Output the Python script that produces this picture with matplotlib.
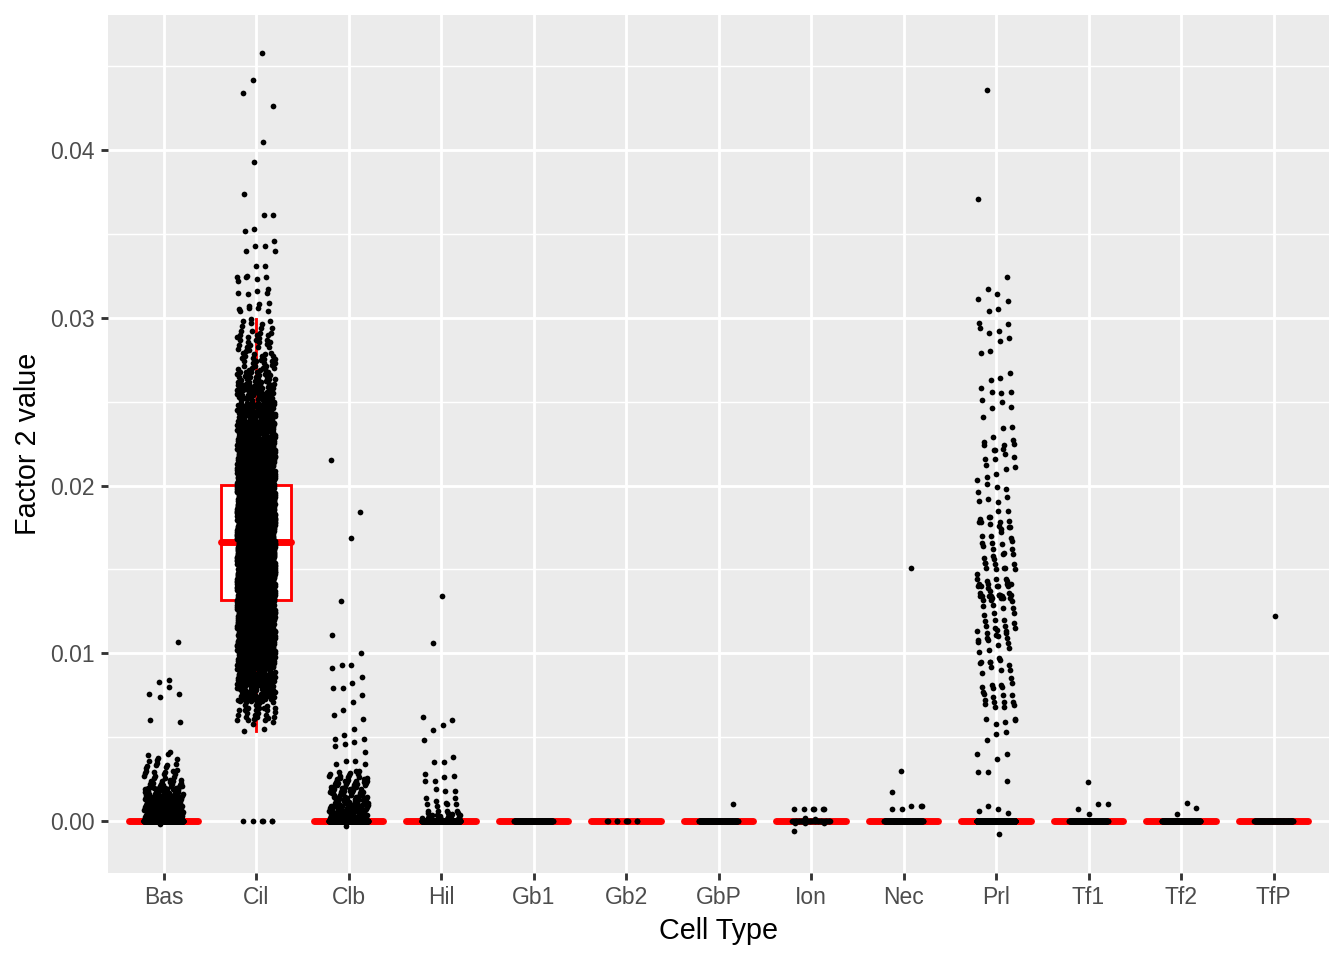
import numpy as np
import matplotlib
matplotlib.use("Agg")
import matplotlib.pyplot as plt
from matplotlib.ticker import FixedLocator

plt.rcParams['font.family'] = ['Liberation Sans', 'DejaVu Sans']

categories = ["Bas", "Cil", "Clb", "Hil", "Gb1", "Gb2", "GbP", "Ion", "Nec", "Prl", "Tf1", "Tf2", "TfP"]

# number of cells with value exactly 0 per category
zero_counts = [900, 6, 700, 400, 200, 9, 200, 50, 200, 750, 200, 200, 150]

# dense regions read as histogram bins (edges, counts)
bas_bin_edges = [0.0, 0.0005, 0.001, 0.0015, 0.002, 0.0025, 0.003, 0.0035, 0.004]
bas_bin_counts = [70, 60, 45, 32, 20, 12, 8, 6]
cil_bin_edges = [0.005, 0.006, 0.007, 0.008, 0.009, 0.010, 0.011, 0.012, 0.013, 0.014, 0.015, 0.016,
                 0.017, 0.018, 0.019, 0.020, 0.021, 0.022, 0.023, 0.024, 0.025, 0.026, 0.027, 0.028,
                 0.029, 0.030]
cil_bin_counts = [4, 25, 45, 65, 90, 105, 125, 145, 170, 185, 190, 195, 200, 190, 172, 135, 110, 90,
                  72, 58, 45, 34, 26, 20, 12]
clb_bin_edges = [0.0, 0.0005, 0.001, 0.0015, 0.002, 0.0025, 0.003]
clb_bin_counts = [45, 38, 30, 25, 20, 12]
hil_bin_edges = [0.0, 0.0004]
hil_bin_counts = [25]

# individually readable points
bas_points = [0.0107, 0.0084, 0.0083, 0.0076, 0.0076, 0.0080, 0.0074, 0.0060, 0.0059, 0.0041, -0.0002]
cil_points = [0.0458, 0.0442, 0.0434, 0.0426, 0.0405, 0.0393, 0.0374, 0.0361, 0.0361, 0.0353, 0.0352,
              0.0346, 0.0343, 0.0343, 0.0340, 0.0340, 0.0331, 0.0331, 0.0324, 0.0324, 0.0324, 0.0323,
              0.0325, 0.0322, 0.0315, 0.0316, 0.0314, 0.0315, 0.0317, 0.0306, 0.0307, 0.0305, 0.0304,
              0.0308, 0.0306, 0.0304, 0.0309]
clb_points = [0.0215, 0.0184, 0.0169, 0.0131, 0.0111, 0.0100, 0.0093, 0.0093, 0.0091, 0.0086, 0.0082,
              0.0079, 0.0079, 0.0075, 0.0071, 0.0066, 0.0063, 0.0061, 0.0055, 0.0051, 0.0049, 0.0049,
              0.0047, 0.0046, 0.0045, 0.0041, 0.0036, 0.0036, 0.0034, 0.0034, 0.0030, -0.0003]
hil_points = [0.0134, 0.0106, 0.0062, 0.0060, 0.0057, 0.0054, 0.0048, 0.0038, 0.0035, 0.0035, 0.0028,
              0.0027, 0.0026, 0.0024, 0.0024, 0.0018, 0.0018, 0.0019, 0.0014, 0.0014, 0.0011, 0.0012,
              0.0010, 0.0010, 0.0010, 0.0009, 0.0006, 0.0006, 0.0006, 0.0006, 0.0005, 0.0005, 0.0005]
gb1_points = []
gb2_points = []
gbp_points = [0.0010]
ion_points = [-0.0006, 0.0007, 0.0007, 0.0007, 0.0007, 0.0007, 0.0007, -0.0001, -0.0001, -0.0001,
              0.0001, 0.0002]
nec_points = [0.0151, 0.0030, 0.0017, 0.0009, 0.0009, 0.0007, 0.0007, 0.0009]
prl_points = [0.0436, 0.0371, 0.0324, 0.0314, 0.0317, 0.0311, 0.0310, 0.0305, 0.0304,
              0.0297, 0.0296, 0.0292, 0.0291, 0.0294, 0.0288, 0.0286, 0.0280, 0.0279, 0.0267, 0.0264,
              0.0263, 0.0258, 0.0256, 0.0255, 0.0256, 0.0251, 0.0247, 0.0250, 0.0246, 0.0241, 0.0235,
              0.0234, 0.0229, 0.0224, 0.0227, 0.0222, 0.0221, 0.0226, 0.0225, 0.0224, 0.0221, 0.0216,
              0.0217, 0.0219, 0.0216, 0.0212, 0.0211, 0.0210, 0.0207, 0.0205, 0.0203, 0.0198, 0.0199,
              0.0201, 0.0196, 0.0193, 0.0190, 0.0192, 0.0191, 0.0185, 0.0185, 0.0181, 0.0178, 0.0175,
              0.0176, 0.0177, 0.0180, 0.0179, 0.0178, 0.0181, 0.0178, 0.0175, 0.0174, 0.0170, 0.0170,
              0.0169, 0.0172, 0.0166, 0.0166, 0.0167, 0.0165, 0.0162, 0.0164, 0.0162, 0.0159, 0.0158,
              0.0157, 0.0159, 0.0160, 0.0156, 0.0154, 0.0153, 0.0151, 0.0153, 0.0154, 0.0150, 0.0151,
              0.0150, 0.0151, 0.0147, 0.0144, 0.0144, 0.0143, 0.0144, 0.0143, 0.0140, 0.0141, 0.0140,
              0.0141, 0.0140, 0.0139, 0.0141, 0.0140, 0.0135, 0.0134, 0.0136, 0.0136, 0.0135, 0.0137,
              0.0134, 0.0133, 0.0135, 0.0134, 0.0140, 0.0141,
              0.0133, 0.0132, 0.0134, 0.0135, 0.0134, 0.0133, 0.0132, 0.0131, 0.0133, 0.0129, 0.0128,
              0.0127, 0.0127, 0.0124, 0.0123, 0.0124, 0.0120, 0.0120, 0.0119, 0.0118, 0.0116, 0.0115,
              0.0116, 0.0115, 0.0112, 0.0111, 0.0112, 0.0113, 0.0113, 0.0114, 0.0109, 0.0107, 0.0109,
              0.0110, 0.0108, 0.0108, 0.0106, 0.0105, 0.0102, 0.0101, 0.0103, 0.0097, 0.0095, 0.0094,
              0.0093, 0.0096, 0.0095, 0.0095, 0.0090, 0.0090, 0.0092, 0.0088, 0.0085, 0.0081, 0.0081,
              0.0080, 0.0082, 0.0080, 0.0079, 0.0077, 0.0075, 0.0075, 0.0074, 0.0076, 0.0071, 0.0071,
              0.0071, 0.0070, 0.0069, 0.0068, 0.0068, 0.0072, 0.0061, 0.0059, 0.0058, 0.0061, 0.0060,
              0.0053, 0.0052, 0.0048, 0.0040, 0.0040, 0.0037, 0.0029, 0.0029, 0.0024, 0.0007, 0.0009,
              0.0006, 0.0005, -0.0008]
tf1_points = [0.0023, 0.0007, 0.0010, 0.0010, 0.0004]
tf2_points = [0.0008, 0.0011, 0.0004]
tfp_points = [0.0122]

point_lists = [bas_points, cil_points, clb_points, hil_points, gb1_points, gb2_points, gbp_points,
               ion_points, nec_points, prl_points, tf1_points, tf2_points, tfp_points]
bin_specs = {0: (bas_bin_edges, bas_bin_counts), 1: (cil_bin_edges, cil_bin_counts),
             2: (clb_bin_edges, clb_bin_counts), 3: (hil_bin_edges, hil_bin_counts)}

A1 = 0.7548776662466927
A2 = 0.5698402909980532


def expand_bins(edges, counts, start):
    vals = []
    k = start
    for lo, hi, c in zip(edges[:-1], edges[1:], counts):
        for j in range(c):
            frac = (0.5 + k * A2) % 1.0
            vals.append(lo + frac * (hi - lo))
            k += 1
    return vals


data = []
for i, cat in enumerate(categories):
    vals = [0.0] * zero_counts[i]
    if i in bin_specs:
        e, c = bin_specs[i]
        vals += expand_bins(e, c, i * 97)
    vals += point_lists[i]
    data.append(np.array(vals))

fig = plt.figure(figsize=(1344 / 192, 960 / 192), dpi=192)
ax = fig.add_axes([108 / 1344, 87 / 960, (1329 - 108) / 1344, (873 - 15) / 960])
ax.set_facecolor('#EBEBEB')
for s in ax.spines.values():
    s.set_visible(False)

positions = np.arange(1, len(categories) + 1)
ax.boxplot(data, positions=positions, widths=0.75, patch_artist=True, showfliers=False,
           showcaps=False, manage_ticks=False,
           boxprops=dict(facecolor='white', edgecolor='red', linewidth=1.07),
           medianprops=dict(color='red', linewidth=2.6, solid_capstyle='round'),
           whiskerprops=dict(color='red', linewidth=1.07), zorder=2)

jw = 0.21
for i, vals in enumerate(data):
    n = len(vals)
    idx = np.arange(n)
    offs = (((0.5 + (idx + i * 31) * A1) % 1.0) - 0.5) * 2 * jw
    ax.scatter(positions[i] + offs, vals, s=4.6, c='black', linewidths=0, zorder=3)

ax.set_xlim(0.4, len(categories) + 0.6)
ax.set_ylim(-(873 - 821) / 16775.0, (821 - 15) / 16775.0)
ax.set_xticks(positions)
ax.set_xticklabels(categories)
ax.yaxis.set_major_locator(FixedLocator([0.0, 0.01, 0.02, 0.03, 0.04]))
ax.set_yticklabels(["0.00", "0.01", "0.02", "0.03", "0.04"])
ax.yaxis.set_minor_locator(FixedLocator([-0.005, 0.005, 0.015, 0.025, 0.035, 0.045]))

ax.grid(True, which='major', color='white', linewidth=1.07)
ax.grid(True, which='minor', axis='y', color='white', linewidth=0.53)
ax.set_axisbelow(True)

ax.tick_params(axis='both', which='major', length=2.75, width=1.07, color='#333333',
               labelcolor='#4D4D4D', labelsize=8.6, pad=2.2)
ax.tick_params(axis='y', which='minor', length=0)

ax.set_xlabel('Cell Type', fontsize=10.8, color='black', labelpad=3)
ax.set_ylabel('Factor 2 value', fontsize=10.8, color='black', labelpad=3)

fig.savefig('out.png', dpi=192, facecolor='white')
